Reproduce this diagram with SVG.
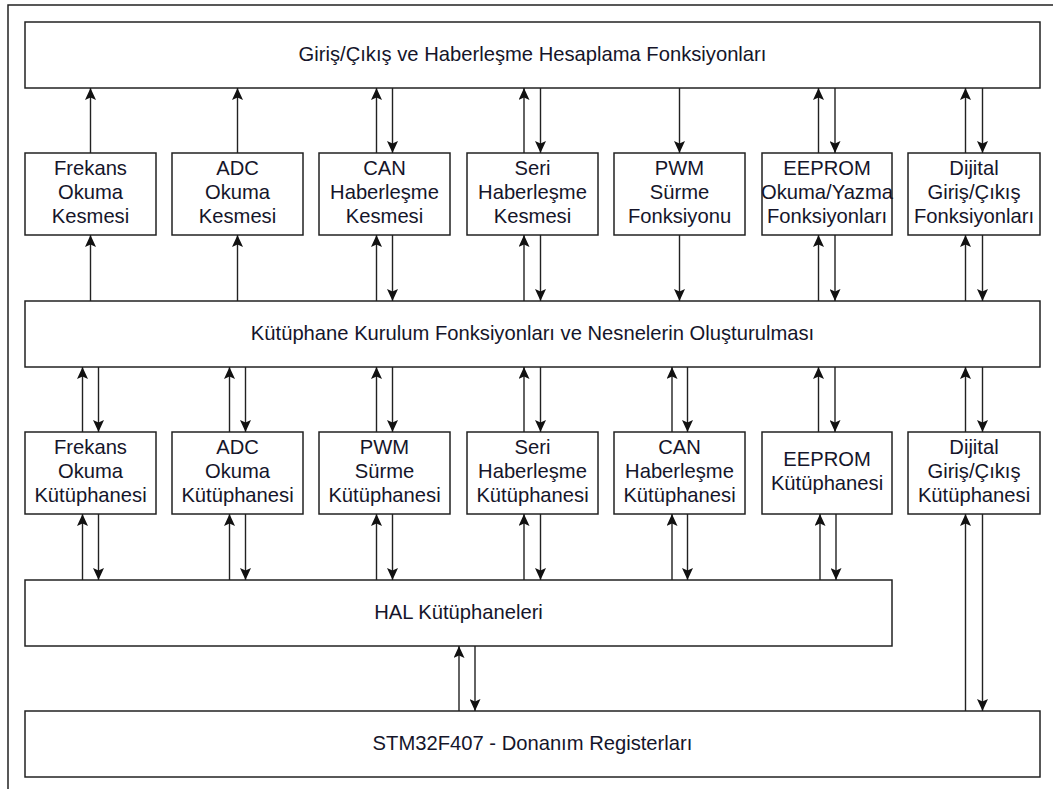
<svg xmlns="http://www.w3.org/2000/svg" width="1053" height="789" viewBox="0 0 1053 789">
<style>
.box{fill:#fff;stroke:#222;stroke-width:1.5}
.t{font-family:"Liberation Sans",Arial,sans-serif;font-size:20.2px;fill:#15152a;text-anchor:middle}
.c line{stroke:#222;stroke-width:1.4;marker-end:url(#ah)}
</style>
<defs>
<marker id="ah" markerUnits="userSpaceOnUse" markerWidth="12" markerHeight="11" viewBox="0 0 12 11" refX="12" refY="5.5" orient="auto">
<path d="M0,0 L12,5.5 L0,11 L2.5,5.5 Z" fill="#111"/>
</marker>
</defs>
<rect width="1053" height="789" fill="#fff"/>
<path d="M8,789 V5 H1053" fill="none" stroke="#222" stroke-width="1.5"/>

<g id="top">
<rect class="box" x="25" y="22" width="1015" height="66"/>
<text class="t" x="532.5" y="61">Giriş/Çıkış ve Haberleşme Hesaplama Fonksiyonları</text>
</g>

<g id="r1-frekans"><rect class="box" x="25" y="153" width="131" height="82"/>
<text class="t" x="90.5" y="175">Frekans</text><text class="t" x="90.5" y="199">Okuma</text><text class="t" x="90.5" y="223">Kesmesi</text></g>
<g id="r1-adc"><rect class="box" x="172" y="153" width="131" height="82"/>
<text class="t" x="237.5" y="175">ADC</text><text class="t" x="237.5" y="199">Okuma</text><text class="t" x="237.5" y="223">Kesmesi</text></g>
<g id="r1-can"><rect class="box" x="319" y="153" width="131" height="82"/>
<text class="t" x="384.5" y="175">CAN</text><text class="t" x="384.5" y="199">Haberleşme</text><text class="t" x="384.5" y="223">Kesmesi</text></g>
<g id="r1-seri"><rect class="box" x="467" y="153" width="131" height="82"/>
<text class="t" x="532.5" y="175">Seri</text><text class="t" x="532.5" y="199">Haberleşme</text><text class="t" x="532.5" y="223">Kesmesi</text></g>
<g id="r1-pwm"><rect class="box" x="614" y="153" width="131" height="82"/>
<text class="t" x="679.5" y="175">PWM</text><text class="t" x="679.5" y="199">Sürme</text><text class="t" x="679.5" y="223">Fonksiyonu</text></g>
<g id="r1-eeprom"><rect class="box" x="762" y="153" width="130" height="82"/>
<text class="t" x="827" y="175">EEPROM</text><text class="t" x="827" y="199">Okuma/Yazma</text><text class="t" x="827" y="223">Fonksiyonları</text></g>
<g id="r1-dijital"><rect class="box" x="908" y="153" width="132" height="82"/>
<text class="t" x="974" y="175">Dijital</text><text class="t" x="974" y="199">Giriş/Çıkış</text><text class="t" x="974" y="223">Fonksiyonları</text></g>

<g id="mid">
<rect class="box" x="25" y="301" width="1015" height="66"/>
<text class="t" x="532.5" y="340">Kütüphane Kurulum Fonksiyonları ve Nesnelerin Oluşturulması</text>
</g>

<g id="r2-frekans"><rect class="box" x="25" y="432" width="131" height="82"/>
<text class="t" x="90.5" y="454">Frekans</text><text class="t" x="90.5" y="478">Okuma</text><text class="t" x="90.5" y="502">Kütüphanesi</text></g>
<g id="r2-adc"><rect class="box" x="172" y="432" width="131" height="82"/>
<text class="t" x="237.5" y="454">ADC</text><text class="t" x="237.5" y="478">Okuma</text><text class="t" x="237.5" y="502">Kütüphanesi</text></g>
<g id="r2-pwm"><rect class="box" x="319" y="432" width="131" height="82"/>
<text class="t" x="384.5" y="454">PWM</text><text class="t" x="384.5" y="478">Sürme</text><text class="t" x="384.5" y="502">Kütüphanesi</text></g>
<g id="r2-seri"><rect class="box" x="467" y="432" width="131" height="82"/>
<text class="t" x="532.5" y="454">Seri</text><text class="t" x="532.5" y="478">Haberleşme</text><text class="t" x="532.5" y="502">Kütüphanesi</text></g>
<g id="r2-can"><rect class="box" x="614" y="432" width="131" height="82"/>
<text class="t" x="679.5" y="454">CAN</text><text class="t" x="679.5" y="478">Haberleşme</text><text class="t" x="679.5" y="502">Kütüphanesi</text></g>
<g id="r2-eeprom"><rect class="box" x="762" y="432" width="130" height="82"/>
<text class="t" x="827" y="466">EEPROM</text><text class="t" x="827" y="490">Kütüphanesi</text></g>
<g id="r2-dijital"><rect class="box" x="908" y="432" width="132" height="82"/>
<text class="t" x="974" y="454">Dijital</text><text class="t" x="974" y="478">Giriş/Çıkış</text><text class="t" x="974" y="502">Kütüphanesi</text></g>

<g id="hal">
<rect class="box" x="25" y="580" width="867" height="66"/>
<text class="t" x="458.5" y="619">HAL Kütüphaneleri</text>
</g>

<g id="hw">
<rect class="box" x="25" y="711" width="1015" height="66"/>
<text class="t" x="532.5" y="750">STM32F407 - Donanım Registerları</text>
</g>

<g id="connectors" class="c">
<!-- top bar <-> row1 -->
<line x1="90.5" y1="153" x2="90.5" y2="88"/>
<line x1="237.5" y1="153" x2="237.5" y2="88"/>
<line x1="376.5" y1="153" x2="376.5" y2="88"/>
<line x1="392.5" y1="88" x2="392.5" y2="153"/>
<line x1="524" y1="153" x2="524" y2="88"/>
<line x1="540.5" y1="88" x2="540.5" y2="153"/>
<line x1="679.5" y1="88" x2="679.5" y2="153"/>
<line x1="818.5" y1="153" x2="818.5" y2="88"/>
<line x1="835" y1="88" x2="835" y2="153"/>
<line x1="965.5" y1="153" x2="965.5" y2="88"/>
<line x1="982.5" y1="88" x2="982.5" y2="153"/>
<!-- row1 <-> mid bar -->
<line x1="90.5" y1="301" x2="90.5" y2="235"/>
<line x1="237.5" y1="301" x2="237.5" y2="235"/>
<line x1="376.5" y1="301" x2="376.5" y2="235"/>
<line x1="392.5" y1="235" x2="392.5" y2="301"/>
<line x1="524" y1="301" x2="524" y2="235"/>
<line x1="540.5" y1="235" x2="540.5" y2="301"/>
<line x1="679.5" y1="235" x2="679.5" y2="301"/>
<line x1="818.5" y1="301" x2="818.5" y2="235"/>
<line x1="835" y1="235" x2="835" y2="301"/>
<line x1="965.5" y1="301" x2="965.5" y2="235"/>
<line x1="982.5" y1="235" x2="982.5" y2="301"/>
<!-- mid bar <-> row2 -->
<line x1="82.5" y1="432" x2="82.5" y2="367"/>
<line x1="98.5" y1="367" x2="98.5" y2="432"/>
<line x1="229.5" y1="432" x2="229.5" y2="367"/>
<line x1="245.5" y1="367" x2="245.5" y2="432"/>
<line x1="376.5" y1="432" x2="376.5" y2="367"/>
<line x1="392.5" y1="367" x2="392.5" y2="432"/>
<line x1="524" y1="432" x2="524" y2="367"/>
<line x1="540.5" y1="367" x2="540.5" y2="432"/>
<line x1="672" y1="432" x2="672" y2="367"/>
<line x1="687.5" y1="367" x2="687.5" y2="432"/>
<line x1="818.5" y1="432" x2="818.5" y2="367"/>
<line x1="835" y1="367" x2="835" y2="432"/>
<line x1="965.5" y1="432" x2="965.5" y2="367"/>
<line x1="982.5" y1="367" x2="982.5" y2="432"/>
<!-- row2 <-> HAL -->
<line x1="82.5" y1="580" x2="82.5" y2="514"/>
<line x1="98.5" y1="514" x2="98.5" y2="580"/>
<line x1="229.5" y1="580" x2="229.5" y2="514"/>
<line x1="245.5" y1="514" x2="245.5" y2="580"/>
<line x1="376.5" y1="580" x2="376.5" y2="514"/>
<line x1="392.5" y1="514" x2="392.5" y2="580"/>
<line x1="524" y1="580" x2="524" y2="514"/>
<line x1="540.5" y1="514" x2="540.5" y2="580"/>
<line x1="672" y1="580" x2="672" y2="514"/>
<line x1="687.5" y1="514" x2="687.5" y2="580"/>
<line x1="820" y1="580" x2="820" y2="514"/>
<line x1="836" y1="514" x2="836" y2="580"/>
<!-- dijital <-> hardware -->
<line x1="965.5" y1="711" x2="965.5" y2="514"/>
<line x1="982.5" y1="514" x2="982.5" y2="711"/>
<!-- HAL <-> hardware -->
<line x1="459" y1="711" x2="459" y2="646"/>
<line x1="475" y1="646" x2="475" y2="711"/>
</g>
</svg>
